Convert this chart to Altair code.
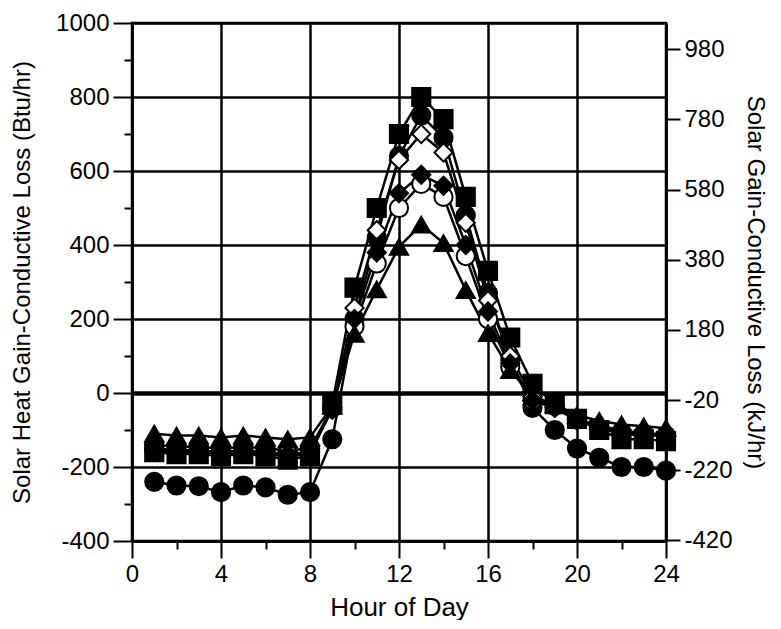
import altair as alt
import pandas as pd

hours = list(range(1, 25))

sq_filled = [-160, -165, -165, -170, -165, -170, -180, -170, -30, 285, 500, 700,
             800, 740, 530, 330, 150, 25, -30, -70, -100, -125, -125, -130]
circ_filled = [-240, -250, -252, -268, -250, -255, -275, -268, -125, 200, 420, 640,
               750, 690, 480, 270, 90, -40, -100, -150, -175, -200, -200, -210]
diam_open = [-140, -145, -145, -150, -145, -150, -155, -150, -40, 230, 440, 630,
             700, 650, 460, 250, 100, -10, -40, -70, -90, -100, -110, -110]
diam_filled = [-150, -155, -155, -160, -155, -160, -165, -160, -45, 200, 380, 540,
               590, 560, 400, 220, 80, -20, -40, -75, -95, -110, -115, -115]
circ_open = [-155, -160, -160, -165, -160, -165, -170, -165, -40, 180, 350, 500,
             565, 530, 370, 200, 70, -20, -35, -70, -95, -105, -110, -115]
tri_filled = [-110, -115, -115, -120, -115, -120, -125, -120, -35, 160, 280, 395,
              455, 405, 278, 162, 62, -10, -30, -60, -75, -85, -90, -95]

series_names = ["Filled circle", "Open circle", "Open diamond", "Filled diamond",
                "Filled triangle", "Filled square"]
series_values = [circ_filled, circ_open, diam_open, diam_filled, tri_filled, sq_filled]
series_shapes = ["circle", "circle", "diamond", "diamond", "triangle-up", "square"]
series_fills = ["black", "white", "white", "black", "black", "black"]

left_ticks = list(range(-400, 1001, 100))
x_ticks = list(range(0, 25))
right_ticks = [-420, -220, -20, 180, 380, 580, 780, 980]
BTU_TO_KJ = 1.055

rows = []
for name, vals in zip(series_names, series_values):
    for h, v in zip(hours, vals):
        rows.append({"hour": h, "value": v, "series": name})
df = pd.DataFrame(rows)

FONT = "Liberation Sans"

x_enc = alt.X(
    "hour:Q",
    scale=alt.Scale(domain=[0, 24], nice=False),
    axis=alt.Axis(
        values=x_ticks,
        title="Hour of Day",
        titleFontSize=26,
        titlePadding=8,
        labelExpr="datum.value % 4 === 0 ? '' + datum.value : ''",
        labelOverlap=False,
        labelFlush=False,
        labelPadding=4,
        tickSize={"condition": {"test": "datum.value % 4 === 0", "value": 17}, "value": 8},
        gridOpacity={"condition": {"test": "datum.value % 4 === 0", "value": 1}, "value": 0},
        grid=True,
    ),
)

y_enc = alt.Y(
    "value:Q",
    scale=alt.Scale(domain=[-400, 1000], nice=False, zero=False),
    axis=alt.Axis(
        values=left_ticks,
        title="Solar Heat Gain-Conductive Loss (Btu/hr)",
        titleFontSize=24,
        titlePadding=21,
        labelExpr="datum.value % 200 === 0 ? '' + datum.value : ''",
        labelOverlap=False,
        labelFlush=False,
        labelPadding=4,
        tickSize={"condition": {"test": "datum.value % 200 === 0", "value": 19}, "value": 8},
        gridOpacity={"condition": {"test": "datum.value % 200 === 0", "value": 1}, "value": 0},
        gridWidth={"condition": {"test": "datum.value === 0", "value": 4.5}, "value": 2.5},
        grid=True,
    ),
)

shape_scale = alt.Scale(domain=series_names, range=series_shapes)
fill_scale = alt.Scale(domain=series_names, range=series_fills)

lines = alt.Chart(df).mark_line(color="black", strokeWidth=2.5).encode(
    x=x_enc, y=y_enc, detail="series:N"
)

points = alt.Chart(df).mark_point(
    filled=True, stroke="black", strokeWidth=2, opacity=1, size=330
).encode(
    x=x_enc,
    y=y_enc,
    shape=alt.Shape("series:N", scale=shape_scale, legend=None),
    fill=alt.Fill("series:N", scale=fill_scale, legend=None),
)

left = alt.layer(lines, points)

right = alt.Chart(df).transform_calculate(
    kj=f"datum.value * {BTU_TO_KJ}"
).mark_point(opacity=0).encode(
    x=alt.X("hour:Q", scale=alt.Scale(domain=[0, 24], nice=False)),
    y=alt.Y(
        "kj:Q",
        scale=alt.Scale(domain=[-400 * BTU_TO_KJ, 1000 * BTU_TO_KJ], nice=False, zero=False),
        axis=alt.Axis(
            orient="right",
            values=right_ticks,
            title="Solar Gain-Conductive Loss (kJ/hr)",
            titleFontSize=24,
            titlePadding=10,
            labelExpr="'' + datum.value",
            labelOverlap=False,
            labelFlush=False,
            labelPadding=4,
            tickSize=14,
            grid=False,
        ),
    ),
)

chart = alt.layer(left, right).resolve_scale(y="independent").properties(
    width=534,
    height=518,
    background="white",
    padding={"left": 2, "top": 3, "right": 6, "bottom": 0},
).configure_view(
    stroke="black", strokeWidth=2.5
).configure_axis(
    labelFont=FONT,
    labelFontSize=24,
    labelColor="black",
    titleFont=FONT,
    titleColor="black",
    titleFontWeight="normal",
    domainColor="black",
    domainWidth=2.5,
    tickColor="black",
    tickWidth=2,
    gridColor="black",
    gridWidth=2.5,
)

chart.save("out.html", embed_options={"renderer": "svg", "actions": False})
